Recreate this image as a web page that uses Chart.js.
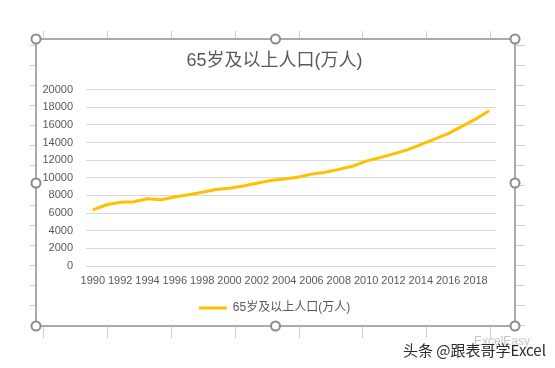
<!DOCTYPE html>
<html>
<head>
<meta charset="utf-8">
<script src="https://cdn.jsdelivr.net/npm/chart.js@4.4.1/dist/chart.umd.min.js"></script>
<style>
  html, body { margin: 0; padding: 0; background: #fff; }
  #wrap { position: relative; width: 555px; height: 368px; }
  #c { position: absolute; left: 0; top: 0; }
  .wm2 { position: absolute; left: 474px; top: 334px; font: 12px "Liberation Sans", Arial, sans-serif; color: rgba(150,150,150,0.55); white-space: nowrap; }
  .wm { position: absolute; left: 403px; top: 340px; font: 15px "Noto Sans CJK SC", "Liberation Sans", sans-serif; color: #2b2b2b; white-space: nowrap; line-height: 20px; text-shadow: 0 0 2px #fff; }
</style>
</head>
<body>
<div id="wrap">
  <canvas id="c" width="555" height="368"></canvas>
  <div class="wm2">ExcelEasy</div>
  <div class="wm">头条 @跟表哥学Excel</div>
</div>
<script>
const years = ['1990','1991','1992','1993','1994','1995','1996','1997','1998','1999',
  '2000','2001','2002','2003','2004','2005','2006','2007','2008','2009',
  '2010','2011','2012','2013','2014','2015','2016','2017','2018','2019'];
const population65 = [6368, 6938, 7218, 7289, 7622, 7510, 7833, 8085, 8359, 8679,
  8821, 9062, 9377, 9692, 9857, 10055, 10419, 10636, 10956, 11307,
  11894, 12288, 12714, 13161, 13755, 14386, 15003, 15831, 16658, 17603];
const seriesName = '65岁及以上人口(万人)';
const chartTitle = '65岁及以上人口(万人)';

const FONT = '"Liberation Sans", Arial, "Noto Sans CJK SC", sans-serif';
const GREY = '#595959';

const frame = { l: 36, t: 39, r: 515, b: 326 };

const decorPlugin = {
  id: 'decor',
  beforeDraw(chart) {
    const ctx = chart.ctx;
    ctx.save();
    ctx.fillStyle = '#fff';
    ctx.fillRect(0, 0, chart.width, chart.height);
    ctx.strokeStyle = '#d0d0d0';
    ctx.lineWidth = 1;
    const xs = [43, 107, 171, 235, 299, 362, 426, 490];
    xs.forEach(x => {
      ctx.beginPath(); ctx.moveTo(x + 0.5, 31); ctx.lineTo(x + 0.5, 38); ctx.stroke();
      ctx.beginPath(); ctx.moveTo(x + 0.5, 327); ctx.lineTo(x + 0.5, 338); ctx.stroke();
    });
    for (let y = 45; y < 326; y += 20) {
      ctx.beginPath(); ctx.moveTo(30, y + 0.5); ctx.lineTo(36, y + 0.5); ctx.stroke();
      ctx.beginPath(); ctx.moveTo(516, y + 0.5); ctx.lineTo(525, y + 0.5); ctx.stroke();
    }
    ctx.strokeStyle = '#8f8f8f';
    ctx.lineWidth = 1.5;
    ctx.strokeRect(frame.l, frame.t, frame.r - frame.l, frame.b - frame.t);
    ctx.restore();
  },
  afterDraw(chart) {
    const ctx = chart.ctx;
    const mx = (frame.l + frame.r) / 2, my = (frame.t + frame.b) / 2 + 0.5;
    const pts = [[frame.l, frame.t], [mx, frame.t], [frame.r, frame.t],
      [frame.l, my], [frame.r, my],
      [frame.l, frame.b], [mx, frame.b], [frame.r, frame.b]];
    ctx.save();
    pts.forEach(([x, y]) => {
      ctx.beginPath();
      ctx.arc(x, y, 4.5, 0, Math.PI * 2);
      ctx.fillStyle = '#fff';
      ctx.fill();
      ctx.lineWidth = 2;
      ctx.strokeStyle = '#8c8c8c';
      ctx.stroke();
    });
    ctx.restore();
  }
};

new Chart(document.getElementById('c'), {
  type: 'line',
  data: {
    labels: years,
    datasets: [{
      label: seriesName,
      data: population65,
      borderColor: '#FFC000',
      backgroundColor: '#FFC000',
      borderWidth: 3,
      pointRadius: 0,
      tension: 0,
      fill: false,
      yAxisID: 'y'
    }]
  },
  options: {
    responsive: false,
    animation: false,
    devicePixelRatio: 1,
    layout: { padding: { left: 36, right: 42, top: 39, bottom: 44 } },
    plugins: {
      title: {
        display: true,
        text: chartTitle,
        color: GREY,
        font: { family: FONT, size: 18, weight: 'normal' },
        padding: { top: 11, bottom: 18 }
      },
      legend: {
        display: true,
        position: 'bottom',
        labels: {
          color: GREY,
          font: { family: FONT, size: 12 },
          usePointStyle: true,
          pointStyle: 'line',
          pointStyleWidth: 28,
          boxHeight: 12,
          padding: 10
        }
      },
      tooltip: { enabled: false }
    },
    scales: {
      x: {
        offset: true,
        grid: { display: false, drawTicks: false },
        border: { display: false },
        ticks: {
          autoSkip: false,
          maxRotation: 0,
          minRotation: 0,
          padding: 8,
          color: GREY,
          font: { family: FONT, size: 11 },
          callback: function(v, i) { return i % 2 === 0 ? this.getLabelForValue(v) : ''; }
        },
        afterFit(scale) { scale.height = 26; }
      },
      y: {
        position: 'left',
        min: 0,
        max: 20000,
        grid: { color: '#d9d9d9', lineWidth: 1, drawTicks: false },
        border: { display: false },
        ticks: {
          stepSize: 2000,
          padding: 13,
          color: GREY,
          font: { family: FONT, size: 11 },
          callback: v => String(v)
        },
        afterFit(scale) { scale.width = 50; }
      },
      yPad: {
        position: 'right',
        display: true,
        grid: { display: false, drawTicks: false },
        border: { display: false },
        ticks: { display: false },
        afterFit(scale) { scale.width = 17; }
      }
    }
  },
  plugins: [decorPlugin]
});
</script>
</body>
</html>
